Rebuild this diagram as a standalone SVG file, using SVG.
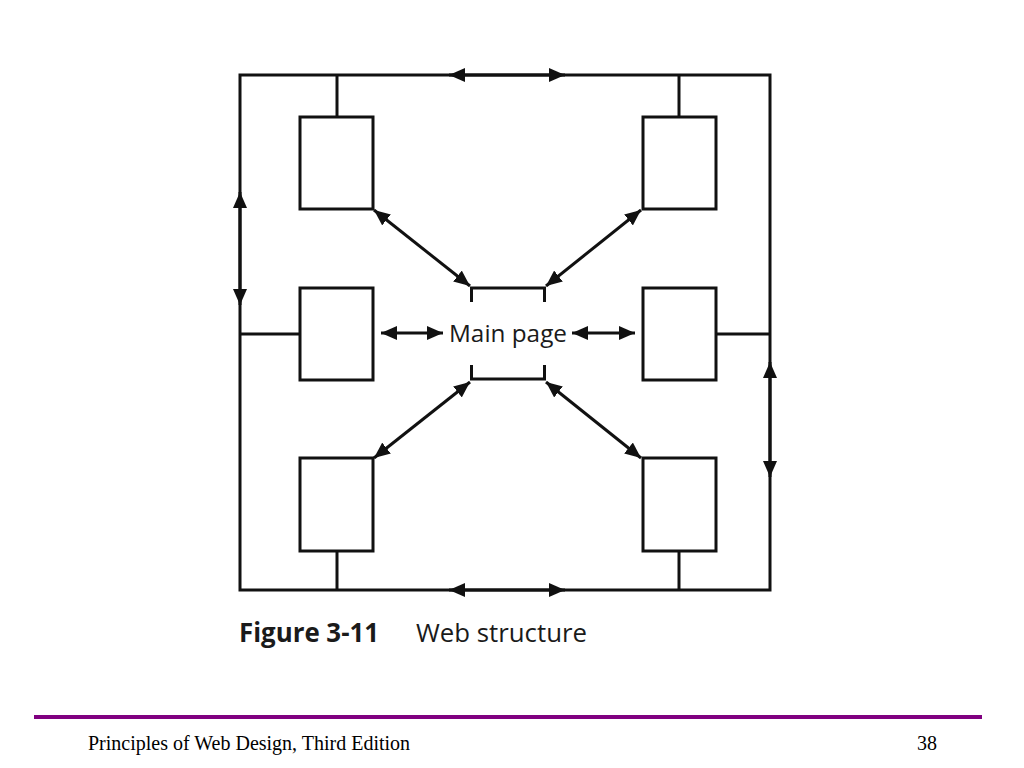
<svg xmlns="http://www.w3.org/2000/svg" width="1024" height="768" viewBox="0 0 1024 768">
<style>
.ln{stroke:#111;stroke-width:3;fill:none}
.box{stroke:#111;stroke-width:3;fill:#fff}
.arr{stroke:#111;stroke-width:3;fill:none;marker-start:url(#ah);marker-end:url(#ah)}
.fig{font-family:"Open Sans","Noto Sans","Liberation Sans",sans-serif;fill:#1a1a1a}
.foot{font-family:"Liberation Serif","Times New Roman",serif;font-size:20px;fill:#000}
</style>
<defs>
<marker id="ah" viewBox="0 0 16 14" refX="16" refY="7" markerWidth="16" markerHeight="14" markerUnits="userSpaceOnUse" orient="auto-start-reverse">
<path d="M0,0 L16,7 L0,14 z" fill="#111"/>
</marker>
</defs>
<rect width="1024" height="768" fill="#fff"/>
<g id="connectors">
<rect class="ln" x="240" y="75" width="530" height="515"/>
<line class="ln" x1="337" y1="75" x2="337" y2="117"/>
<line class="ln" x1="679" y1="75" x2="679" y2="117"/>
<line class="ln" x1="240" y1="334" x2="300" y2="334"/>
<line class="ln" x1="716" y1="334" x2="770" y2="334"/>
<line class="ln" x1="337" y1="551" x2="337" y2="590"/>
<line class="ln" x1="679" y1="551" x2="679" y2="590"/>
<line class="arr" x1="449" y1="75" x2="565" y2="75"/>
<line class="arr" x1="449" y1="590" x2="565" y2="590"/>
<line class="arr" x1="240" y1="192" x2="240" y2="305"/>
<line class="arr" x1="770" y1="362" x2="770" y2="477"/>
<line class="arr" x1="374" y1="210" x2="470" y2="286"/>
<line class="arr" x1="641" y1="210" x2="546" y2="286"/>
<line class="arr" x1="470" y1="382" x2="374" y2="458"/>
<line class="arr" x1="546" y1="382" x2="641" y2="458"/>
<line class="arr" x1="381" y1="333" x2="443" y2="333"/>
<line class="arr" x1="572" y1="333" x2="635" y2="333"/>
</g>
<g id="node-top-left"><rect class="box" x="300" y="117" width="73" height="92"/></g>
<g id="node-top-right"><rect class="box" x="643" y="117" width="73" height="92"/></g>
<g id="node-mid-left"><rect class="box" x="300" y="288" width="73" height="92"/></g>
<g id="node-mid-right"><rect class="box" x="643" y="288" width="73" height="92"/></g>
<g id="node-bot-left"><rect class="box" x="300" y="458" width="73" height="93"/></g>
<g id="node-bot-right"><rect class="box" x="643" y="458" width="73" height="93"/></g>
<g id="node-main">
<path class="ln" d="M471.5,302 V288 H544.5 V302"/>
<path class="ln" d="M471.5,365 V379 H544.5 V365"/>
<text class="fig" x="449" y="342" font-size="24" textLength="118" lengthAdjust="spacingAndGlyphs">Main page</text>
</g>
<g id="caption">
<text class="fig" x="239" y="642" font-size="26" font-weight="bold" textLength="140" lengthAdjust="spacingAndGlyphs">Figure 3-11</text>
<text class="fig" x="416" y="642" font-size="26" textLength="171" lengthAdjust="spacingAndGlyphs">Web structure</text>
</g>
<g id="footer">
<line x1="34" y1="717" x2="982" y2="717" stroke="#800080" stroke-width="4"/>
<text class="foot" x="88" y="750">Principles of Web Design, Third Edition</text>
<text class="foot" x="917" y="750">38</text>
</g>
</svg>
